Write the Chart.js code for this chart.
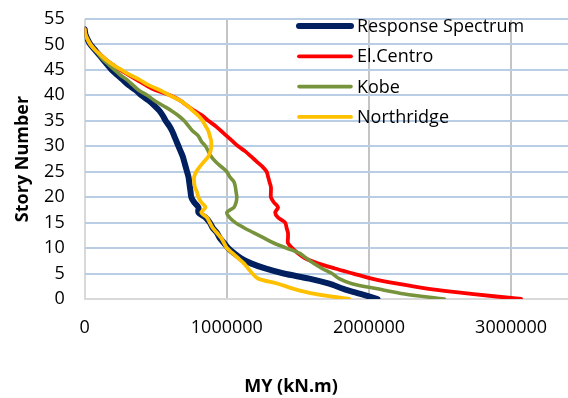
<!DOCTYPE html>
<html><head><meta charset="utf-8">
<script src="https://cdn.jsdelivr.net/npm/chart.js@4.4.1/dist/chart.umd.min.js"></script>
<style>html,body{margin:0;padding:0;background:#fff;overflow:hidden}#wrap{width:568px;height:398px;position:relative}</style>
</head><body><div id="wrap"><canvas id="c" width="568" height="398"></canvas></div>
<script>
const stories = [0,1,2,3,4,5,6,7,8,9,10,11,12,13,14,15,16,17,18,19,20,21,22,23,24,25,26,27,28,29,30,31,32,33,34,35,36,37,38,39,40,41,42,43,44,45,46,47,48,49,50,51,52,53];
const responseSpectrum = [2060000,1940000,1820000,1720000,1580000,1400000,1270000,1170000,1100000,1050000,1010000,980000,950000,930000,900000,880000,850000,800000,800000,770000,750000,745000,740000,735000,730000,720000,710000,700000,690000,675000,660000,645000,630000,615000,595000,570000,550000,525000,490000,450000,400000,360000,310000,270000,230000,190000,160000,130000,100000,70000,40000,20000,5000,0];
const elCentro = [3070000,2720000,2420000,2200000,2020000,1890000,1760000,1640000,1550000,1500000,1460000,1430000,1430000,1430000,1420000,1410000,1360000,1340000,1360000,1330000,1310000,1310000,1310000,1300000,1290000,1280000,1250000,1210000,1170000,1130000,1080000,1040000,1000000,960000,920000,870000,830000,770000,720000,670000,600000,500000,430000,370000,310000,250000,200000,150000,110000,70000,40000,20000,5000,0];
const kobe = [2530000,2250000,2060000,1880000,1790000,1740000,1670000,1610000,1560000,1510000,1420000,1330000,1260000,1190000,1120000,1060000,1020000,1000000,1050000,1065000,1070000,1065000,1060000,1050000,1020000,1000000,960000,920000,890000,870000,850000,820000,800000,760000,730000,700000,660000,610000,550000,490000,440000,380000,340000,300000,250000,210000,170000,130000,100000,70000,40000,20000,5000,0];
const northridge = [1860000,1620000,1470000,1360000,1220000,1180000,1150000,1120000,1080000,1040000,1000000,980000,960000,930000,900000,880000,860000,820000,850000,820000,800000,790000,775000,770000,770000,785000,810000,840000,870000,885000,890000,890000,880000,870000,850000,830000,800000,760000,720000,670000,600000,530000,450000,390000,320000,260000,200000,150000,110000,70000,40000,20000,5000,0];
const seriesNames = ['Response Spectrum','El.Centro','Kobe','Northridge'];
const xTickValues = [0,1000000,2000000,3000000];
const yTickValues = [0,5,10,15,20,25,30,35,40,45,50,55];
const xTitle = 'MY (kN.m)';
const yTitle = 'Story Number';

const seriesValues = [responseSpectrum, elCentro, kobe, northridge];
const colors = ['#002060','#ff0000','#77933c','#ffc000'];
const widths = [6,3.8,3.6,3.8];

const datasets = seriesValues.map((vals,i)=>({
  label: seriesNames[i],
  data: vals.map((v,k)=>({x:v,y:stories[k]})),
  borderColor: colors[i],
  backgroundColor: colors[i],
  borderWidth: widths[i],
  pointRadius: 0,
  showLine: true,
  tension: 0.3,
  borderCapStyle: 'round',
  borderJoinStyle: 'round',
  fill: false
})).reverse();

const FONT = '"Open Sans", sans-serif';

const legendPlugin = {
  id: 'customLegend',
  afterDraw(chart){
    const ctx = chart.ctx;
    ctx.save();
    seriesNames.forEach((name,i)=>{
      const y = 26 + i*30.3;
      ctx.beginPath();
      ctx.strokeStyle = colors[i];
      ctx.lineWidth = widths[i];
      ctx.lineCap = 'round';
      ctx.moveTo(299, y);
      ctx.lineTo(351, y);
      ctx.stroke();
      ctx.fillStyle = '#000';
      ctx.font = '18px ' + FONT;
      ctx.textAlign = 'left';
      ctx.textBaseline = 'middle';
      ctx.fillText(name, 357, y+1);
    });
    ctx.font = 'bold 18px ' + FONT;
    ctx.textAlign = 'center';
    ctx.textBaseline = 'middle';
    ctx.fillStyle = '#000';
    ctx.fillText(xTitle, 291, 387);
    ctx.restore();
  }
};

new Chart(document.getElementById('c'), {
  type: 'scatter',
  data: { datasets },
  options: {
    responsive: false,
    devicePixelRatio: 1,
    animation: false,
    layout: { padding: { top: 19, right: 0, left: 0, bottom: 0 } },
    plugins: { legend: { display: false }, tooltip: { enabled: false } },
    scales: {
      x: {
        type: 'linear',
        min: 0, max: 3400000,
        afterBuildTicks: s => { s.ticks = xTickValues.map(v=>({value:v})); },
        afterFit: s => { s.height = 99; s.paddingLeft = 0; s.paddingRight = 0; },
        grid: { color: c => (c.tick && c.tick.value === 0) ? '#d9d9d9' : '#c4c4c4', lineWidth: 2, drawTicks: false },
        border: { display: true, color: '#d9d9d9', width: 2 },
        ticks: { autoSkip: false, color: '#000', font: { family: FONT, size: 18 }, padding: 18, maxRotation: 0, callback: v => String(v) }
      },
      y: {
        type: 'linear',
        min: 0, max: 55,
        afterBuildTicks: s => { s.ticks = yTickValues.map(v=>({value:v})); },
        afterFit: s => { s.width = 84.7; s.paddingTop = 0; s.paddingBottom = 0; },
        grid: { color: '#b9cde5', lineWidth: 2, drawTicks: false },
        border: { display: true, color: '#d9d9d9', width: 1 },
        ticks: { autoSkip: false, color: '#000', font: { family: FONT, size: 18 }, padding: 20 },
        title: { display: true, text: yTitle, color: '#000', font: { family: FONT, size: 18, weight: 'bold' }, padding: { top: 12, bottom: 0 } }
      }
    }
  },
  plugins: [legendPlugin]
});
</script>
</body></html>
